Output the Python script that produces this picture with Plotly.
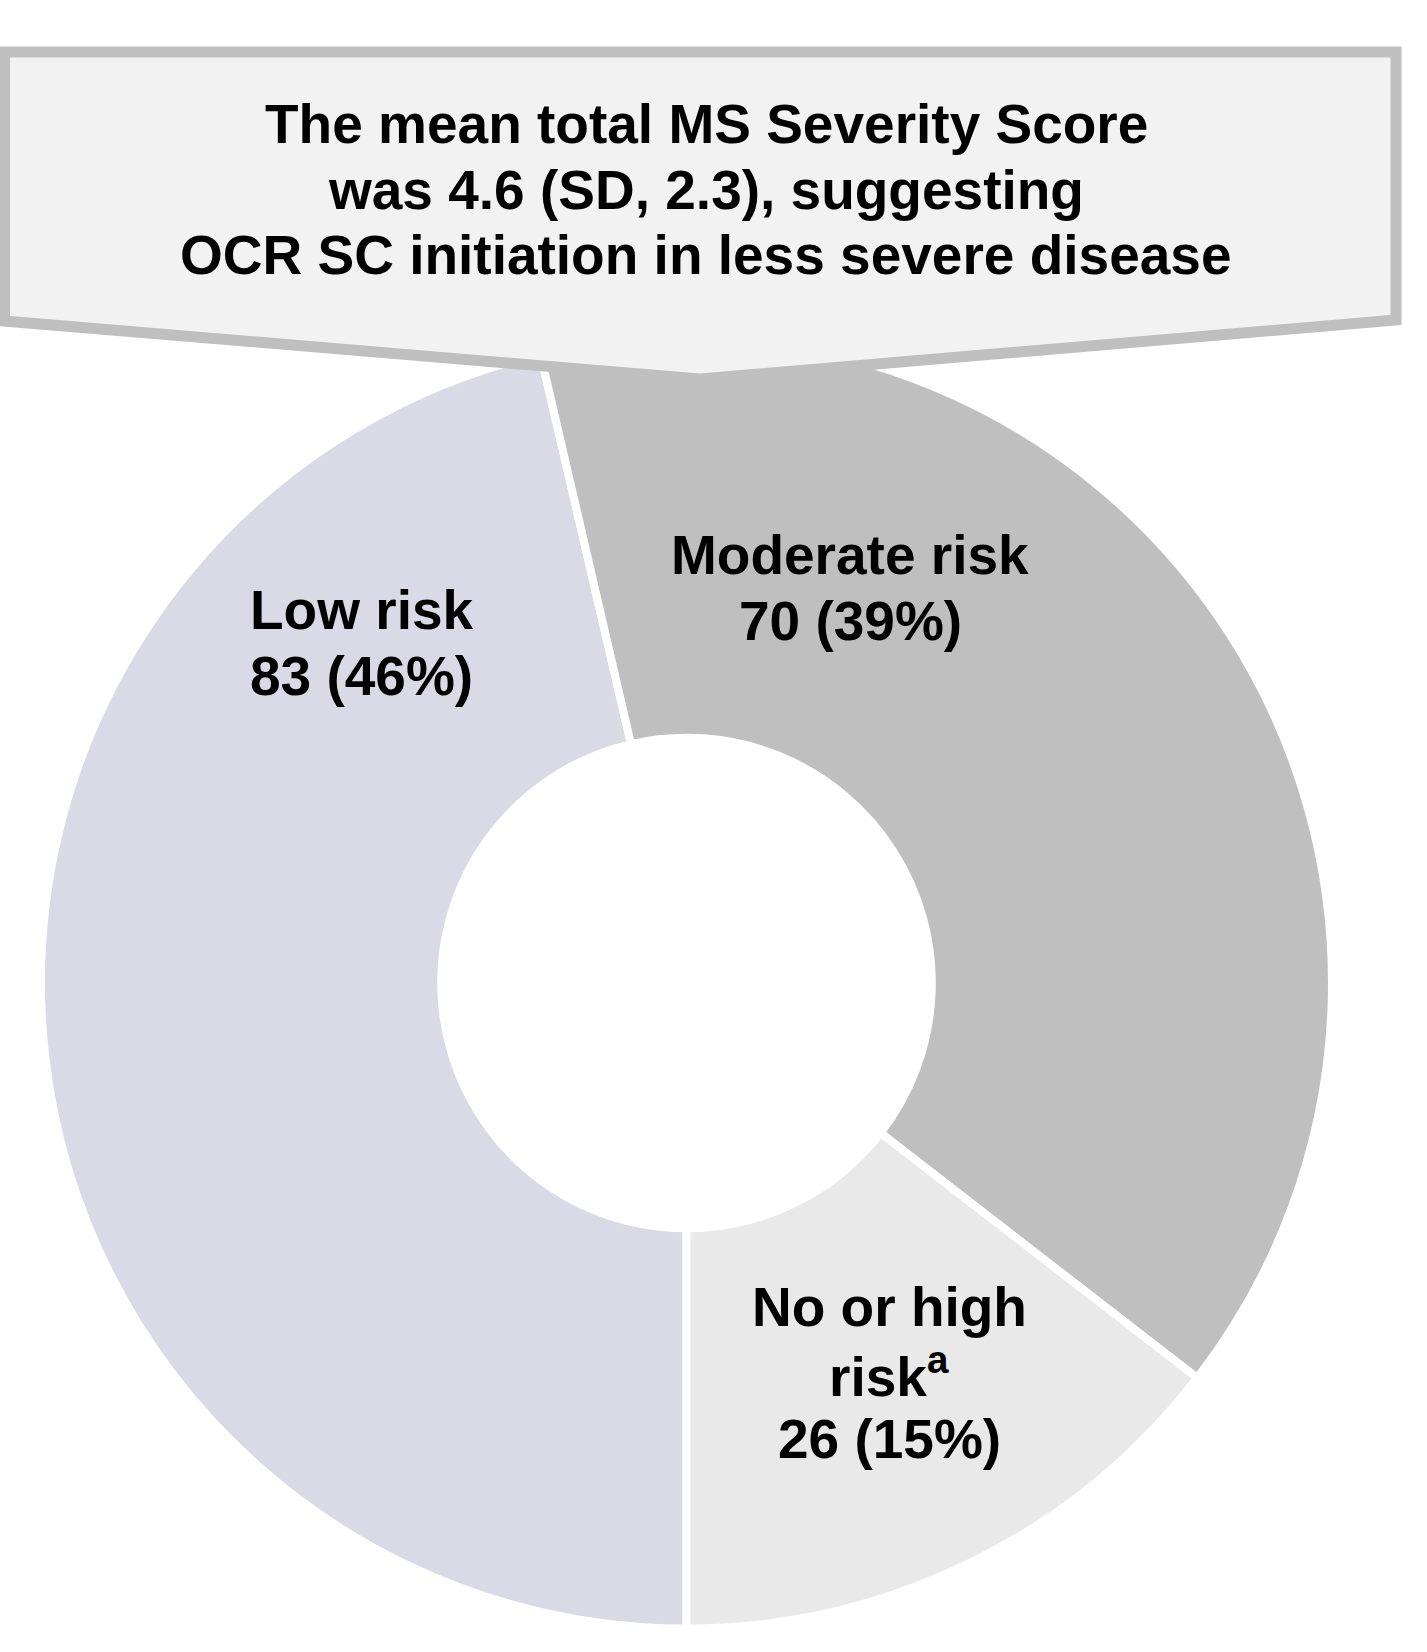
import plotly.graph_objects as go

# Risk categories of the MS Severity Score and patient counts
categories = ["Low risk", "Moderate risk", "No or high risk<sup>a</sup>"]
label_lines = [["Low risk"], ["Moderate risk"], ["No or high", "risk<sup>a</sup>"]]
counts = [83, 70, 26]
slice_colors = ["#D9DAE5", "#BFBFBF", "#E9E9E9"]

callout_lines = [
    "The mean total MS Severity Score",
    "was 4.6 (SD, 2.3), suggesting",
    "OCR SC initiation in less severe disease",
]

W, H = 1427, 1652
FONT = "Liberation Sans, Arial, sans-serif"


def px(x):
    return x / W


def py(y):
    return 1 - y / H


# donut geometry (pixels)
cx, cy, R = 686.5, 983.0, 645.5

fig = go.Figure(
    go.Pie(
        labels=categories,
        values=counts,
        hole=0.38,
        sort=False,
        direction="clockwise",
        rotation=180,
        marker=dict(colors=slice_colors, line=dict(color="white", width=8)),
        textinfo="none",
        hoverinfo="label+value+percent",
        showlegend=False,
        domain=dict(x=[px(cx - R), px(cx + R)], y=[py(cy + R), py(cy - R)]),
    )
)

# callout box pointing down at the donut
box = [(4.5, 52), (1396, 52), (1396, 320), (700, 379), (4.5, 321)]
path = "M " + " L ".join(f"{px(x):.5f},{py(y):.5f}" for x, y in box) + " Z"
fig.add_shape(
    type="path", path=path, xref="paper", yref="paper",
    fillcolor="#F2F2F2", line=dict(color="#BFBFBF", width=11), layer="above",
)

annotations = []
for i, line in enumerate(callout_lines):
    annotations.append(dict(
        text=f"<b>{line}</b>", x=px(706), y=py(124 + 65.5 * i),
        xref="paper", yref="paper",
        xanchor="center", yanchor="middle", showarrow=False,
        font=dict(family=FONT, size=55, color="black"),
    ))

# slice labels: name lines followed by "n (pct%)"
total = sum(counts)
label_pos = [(361.5, 610), (850, 555), (889, 1307)]
for lines, n, (lx, ly) in zip(label_lines, counts, label_pos):
    pct = round(n / total * 100)
    rows = [f"<b>{t}</b>" for t in lines] + [f"<b>{n} ({pct}%)</b>"]
    for j, row in enumerate(rows):
        annotations.append(dict(
            text=row, x=px(lx), y=py(ly + 66 * j), xref="paper", yref="paper",
            xanchor="center", yanchor="middle", showarrow=False,
            font=dict(family=FONT, size=55, color="black"),
        ))

fig.update_layout(
    width=W, height=H,
    margin=dict(l=0, r=0, t=0, b=0),
    paper_bgcolor="white", plot_bgcolor="white",
    annotations=annotations,
)

fig.write_html("out.html")
